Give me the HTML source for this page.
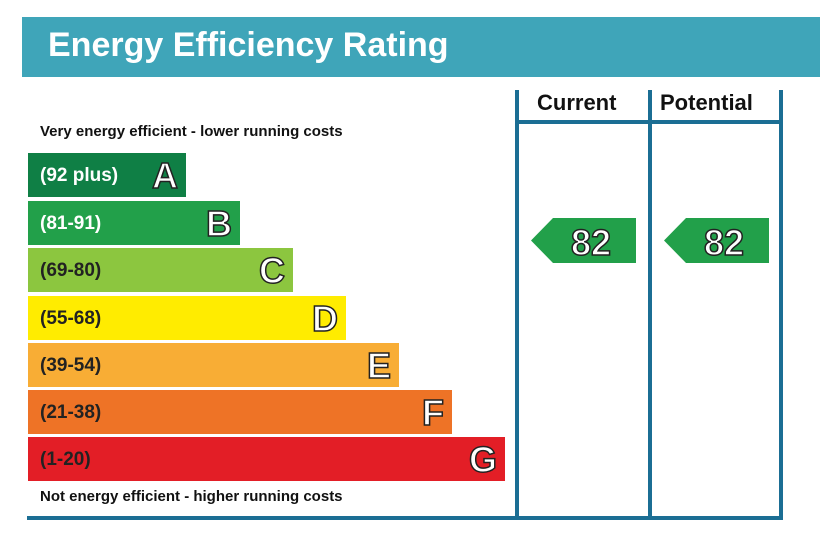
<!DOCTYPE html><html><head><style>
body{margin:0;width:820px;height:547px;background:#fff;position:relative;font-family:"Liberation Sans",sans-serif;overflow:hidden}
.a{position:absolute}
.bar{position:absolute;left:28px;height:44px;color:#fff;font-weight:bold;font-size:19px}
.bar span{position:absolute;left:12px;top:12px}
.bar b{position:absolute;right:8px;top:2px;font-size:36px;color:#fff;-webkit-text-stroke:1.5px #222;font-weight:bold}
.v{position:absolute;width:4px;background:#1b6e94;top:90px;height:430px}
.arrow{position:absolute;top:218px;width:105px;height:45px}
</style></head><body>
<div class="a" style="left:22px;top:17px;width:798px;height:60px;background:#3fa5b9"></div>
<div class="a" style="left:48px;top:26px;color:#fff;font-weight:bold;font-size:34px">Energy Efficiency Rating</div>
<div class="v" style="left:515px"></div><div class="v" style="left:648px"></div><div class="v" style="left:779px"></div>
<div class="a" style="left:515px;top:120px;width:268px;height:4px;background:#1b6e94"></div>
<div class="a" style="left:27px;top:516px;width:756px;height:4px;background:#1b6e94"></div>
<div class="a" style="left:537px;top:90px;font-weight:bold;font-size:22px;color:#111">Current</div>
<div class="a" style="left:660px;top:90px;font-weight:bold;font-size:22px;color:#111">Potential</div>
<div class="a" style="left:40px;top:123px;font-weight:bold;font-size:15px;color:#111">Very energy efficient - lower running costs</div>
<div class="a" style="left:40px;top:488px;font-weight:bold;font-size:15px;color:#111">Not energy efficient - higher running costs</div>
<div class="bar" style="top:153px;width:158px;background:#0f7f45"><span>(92 plus)</span><b>A</b></div>
<div class="bar" style="top:201px;width:212px;background:#22a04a"><span>(81-91)</span><b>B</b></div>
<div class="bar" style="top:248px;width:265px;background:#8cc63f;color:#222"><span style="color:#222">(69-80)</span><b>C</b></div>
<div class="bar" style="top:296px;width:318px;background:#ffec00"><span style="color:#222">(55-68)</span><b>D</b></div>
<div class="bar" style="top:343px;width:371px;background:#f8ad35"><span style="color:#222">(39-54)</span><b>E</b></div>
<div class="bar" style="top:390px;width:424px;background:#ee7326"><span style="color:#222">(21-38)</span><b>F</b></div>
<div class="bar" style="top:437px;width:477px;background:#e31e26"><span style="color:#222">(1-20)</span><b>G</b></div>
<svg class="arrow" style="left:531px" viewBox="0 0 105 45"><polygon points="0,22.5 22,0 105,0 105,45 22,45" fill="#22a04a"/><text x="60" y="37" font-family="Liberation Sans" font-weight="bold" font-size="36" fill="#fff" stroke="#222" stroke-width="1.5" text-anchor="middle">82</text></svg>
<svg class="arrow" style="left:664px" viewBox="0 0 105 45"><polygon points="0,22.5 22,0 105,0 105,45 22,45" fill="#22a04a"/><text x="60" y="37" font-family="Liberation Sans" font-weight="bold" font-size="36" fill="#fff" stroke="#222" stroke-width="1.5" text-anchor="middle">82</text></svg>
</body></html>
